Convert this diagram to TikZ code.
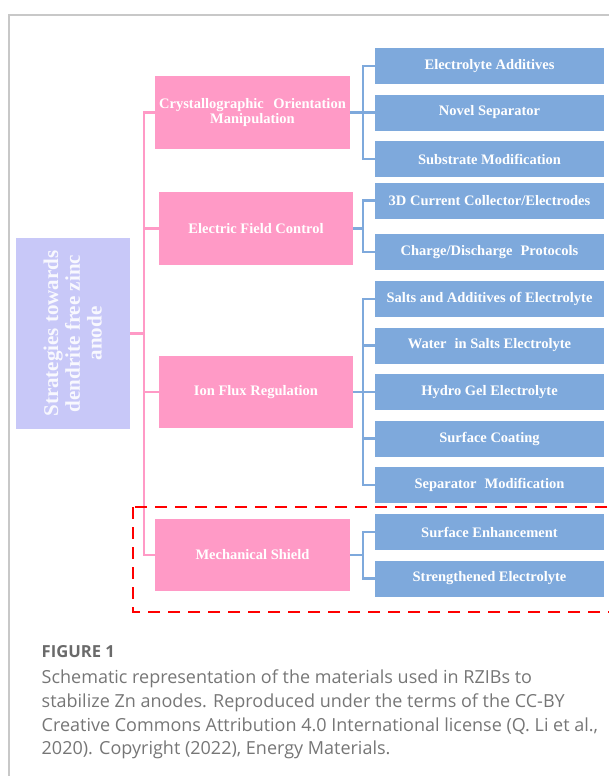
\documentclass[tikz,border=0pt]{standalone}
\usepackage{fontspec}
\setmainfont{Liberation Serif}
\newfontfamily\captionfont{Open Sans}
\usepackage{tikz}
\definecolor{rootfill}{HTML}{C8C8F8}
\definecolor{branchfill}{HTML}{FF9AC6}
\definecolor{leaffill}{HTML}{7EA9DC}
\definecolor{captiongray}{HTML}{767676}
\definecolor{framegray}{HTML}{C8C8C8}
\tikzstyle{root} = [
  fill=rootfill,
  rectangle,
  rotate=90,
  minimum width=191pt,
  minimum height=114.5pt,
  inner sep=0pt,
  align=center,
  text=white!88!rootfill,
  font=\bfseries\fontsize{21}{21.7}\selectfont,
]
\tikzstyle{branch} = [
  fill=branchfill,
  rectangle,
  minimum width=195pt,
  minimum height=73pt,
  inner sep=0pt,
  align=center,
  text=white,
  font=\bfseries\fontsize{14.5}{14.5}\selectfont,
]
\tikzstyle{leaf} = [
  fill=leaffill,
  rectangle,
  minimum width=229pt,
  minimum height=36pt,
  inner sep=0pt,
  align=center,
  text=white,
  font=\bfseries\fontsize{14.5}{14.5}\selectfont,
]
\tikzstyle{pinkline} = [
  draw=branchfill,
  line width=2.8pt,
]
\tikzstyle{blueline} = [
  draw=leaffill,
  line width=2.8pt,
]
\tikzstyle{caption} = [
  anchor=base west,
  inner sep=0pt,
  align=left,
  text=captiongray,
  font=\captionfont\fontsize{18}{23.8}\selectfont,
]

\begin{document}
\begin{tikzpicture}[
    x=1pt,
    y=-1pt,
  ]
  \useasboundingbox (0,0) rectangle (609,776);
  \clip (0,0) rectangle (609,776);
  % panel frame
  \draw[framegray, line width=1.5pt] (9,790) -- (9,15) -- (620,15);

  \node[root] (strategy) at (72.75,333.5)
    {Strategies towards\\dendrite free zinc\\anode};

  \node[branch] (crystal) at (252.5,112.5)
    {Crystallographic\hspace{0.4em} Orientation\\Manipulation};
  \node[branch, minimum width=194pt] (efield) at (256,228.5)
    {Electric Field Control};
  \node[branch, minimum width=194pt, minimum height=72pt] (ionflux) at (256,392)
    {Ion Flux Regulation};
  \node[branch, minimum height=72pt] (shield) at (252.5,555)
    {Mechanical Shield};

  \node[leaf] (additives) at (489.5,66) {Electrolyte Additives};
  \node[leaf] (separator) at (489.5,112.5) {Novel Separator};
  \node[leaf] (substrate) at (489.5,159) {Substrate Modification};
  \node[leaf] (collector) at (489.5,200.5) {3D Current Collector/Electrodes};
  \node[leaf] (protocols) at (489.5,252) {Charge/Discharge\hspace{0.3em} Protocols};
  \node[leaf] (salts) at (489.5,299) {Salts and Additives of Electrolyte};
  \node[leaf] (wise) at (489.5,345.5) {Water\hspace{0.3em} in Salts Electrolyte};
  \node[leaf] (hydrogel) at (489.5,392) {Hydro Gel Electrolyte};
  \node[leaf] (coating) at (489.5,438.5) {Surface Coating};
  \node[leaf] (sepmod) at (489.5,485) {Separator\hspace{0.3em} Modification};
  \node[leaf] (enhance) at (489.5,532) {Surface Enhancement};
  \node[leaf] (strong) at (489.5,578.5) {Strengthened Electrolyte};

  % trunks
  \coordinate (ptrunk) at (144,0);
  \coordinate (btrunk) at (363,0);

  \draw[pinkline] (crystal.west) -- (crystal.west -| ptrunk) |- (shield.west);
  \foreach \b in {strategy.south, efield.west, ionflux.west}
    \draw[pinkline] (\b) -- (\b -| ptrunk);

  \draw[blueline] (additives.west) -- (additives.west -| btrunk) |- (substrate.west);
  \draw[blueline] (collector.west) -- (collector.west -| btrunk) |- (protocols.west);
  \draw[blueline] (salts.west) -- (salts.west -| btrunk) |- (sepmod.west);
  \draw[blueline] (enhance.west) -- (enhance.west -| btrunk) |- (strong.west);
  \foreach \l in {separator, wise, hydrogel, coating}
    \draw[blueline] (\l.west) -- (\l.west -| btrunk);
  \foreach \b in {crystal, efield, ionflux, shield}
    \draw[blueline] (\b.east) -- (\b.east -| btrunk);

  % highlighted group
  \draw[red, line width=2.2pt, dash pattern=on 12pt off 8pt]
    (133,507) rectangle (625,612);

  \node[caption, font=\captionfont\bfseries\fontsize{16.6}{23.8}\selectfont,
    text=captiongray!90!black] (figlabel) at (41.5,657) {FIGURE 1};
  \node[caption, anchor=north west] (figtext) at (41.5,669.5)
    {Schematic representation of the materials used in RZIBs to\\
     stabilize Zn anodes. Reproduced under the terms of the CC-BY\\
     Creative Commons Attribution 4.0 International license (Q. Li et al.,\\
     2020). Copyright (2022), Energy Materials.};
\end{tikzpicture}
\end{document}
